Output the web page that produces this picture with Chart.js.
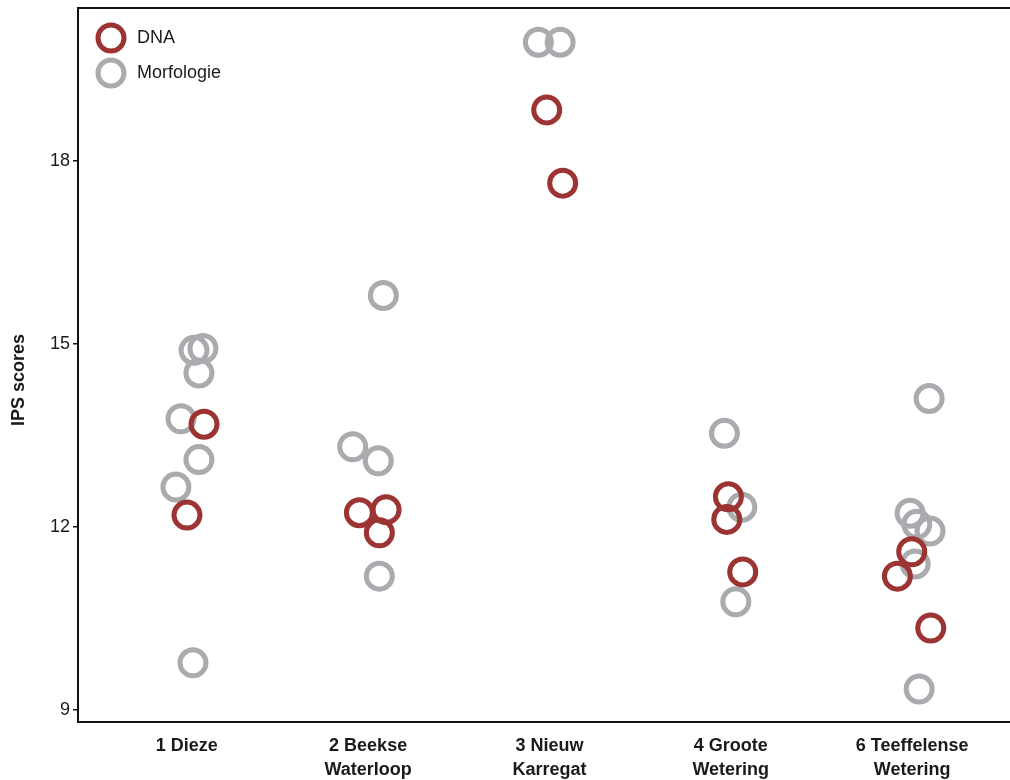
<!DOCTYPE html>
<html>
<head>
<meta charset="utf-8">
<title>IPS scores per locatie</title>
<script src="https://cdn.jsdelivr.net/npm/chart.js@4.4.1/dist/chart.umd.min.js"></script>
<style>
  html, body { margin: 0; padding: 0; background: #ffffff; }
  #wrap { width: 1010px; height: 780px; }
</style>
</head>
<body>
<div id="wrap"><canvas id="chart" width="1010" height="780"></canvas></div>
<script>
// Locations along the x axis (multi-line labels)
const categories = [
  ['1 Dieze'],
  ['2 Beekse', 'Waterloop'],
  ['3 Nieuw', 'Karregat'],
  ['4 Groote', 'Wetering'],
  ['6 Teeffelense', 'Wetering']
];
const yTicks = [9, 12, 15, 18];

// DNA-based IPS scores: location position (with jitter) and score
const dnaX      = [1.095, 1.001, 1.952, 2.099, 2.062, 2.985, 3.073, 3.987, 3.978, 4.066, 4.998, 4.919, 5.103];
const dnaScores = [13.68, 12.19, 12.23, 12.28, 11.90, 18.83, 17.63, 12.49, 12.12, 11.26, 11.59, 11.19, 10.34];

// Morphology-based IPS scores
const morfX      = [1.040, 1.089, 1.067, 0.968, 1.067, 0.940, 1.034,
                    2.084, 1.915, 2.056, 2.062,
                    2.939, 3.059,
                    3.965, 4.061, 4.028,
                    5.094, 4.989, 5.026, 5.099, 5.017, 5.039];
const morfScores = [14.89, 14.92, 14.52, 13.77, 13.10, 12.65, 9.77,
                    15.79, 13.31, 13.08, 11.19,
                    19.94, 19.94,
                    13.53, 12.32, 10.77,
                    14.10, 12.22, 12.04, 11.93, 11.39, 9.34];

const RED = 'rgb(155,52,50)';
const GREY = 'rgb(170,171,175)';
const INK = '#111111';
const FONT = "'Liberation Sans', Arial, Helvetica, sans-serif";

const toPoints = (xs, ys) => xs.map((x, i) => ({ x: x, y: ys[i] }));

// Frame line along the top of the plot area
const topFrame = {
  id: 'topFrame',
  afterDraw(chart) {
    const { ctx, chartArea } = chart;
    ctx.save();
    ctx.strokeStyle = INK;
    ctx.lineWidth = 2;
    ctx.beginPath();
    ctx.moveTo(chartArea.left - 1, chartArea.top);
    ctx.lineTo(chart.width, chartArea.top);
    ctx.stroke();
    ctx.restore();
  }
};

// Legend drawn inside the top-left corner of the plot area
const innerLegend = {
  id: 'innerLegend',
  afterDraw(chart) {
    const { ctx, chartArea } = chart;
    ctx.save();
    chart.data.datasets.forEach((ds, i) => {
      const cx = chartArea.left + 33;
      const cy = chartArea.top + 30 + i * 35;
      ctx.beginPath();
      ctx.arc(cx, cy, ds.pointRadius, 0, Math.PI * 2);
      ctx.lineWidth = ds.borderWidth;
      ctx.strokeStyle = ds.borderColor;
      ctx.stroke();
      ctx.fillStyle = '#1a1a1a';
      ctx.font = '18px ' + FONT;
      ctx.textAlign = 'left';
      ctx.textBaseline = 'middle';
      ctx.fillText(ds.label, cx + 26, cy);
    });
    ctx.restore();
  }
};

// Vertical axis title
const yTitle = {
  id: 'yTitle',
  afterDraw(chart) {
    const { ctx } = chart;
    ctx.save();
    ctx.translate(19, 380);
    ctx.rotate(-Math.PI / 2);
    ctx.fillStyle = '#1a1a1a';
    ctx.font = 'bold 18px ' + FONT;
    ctx.textAlign = 'center';
    ctx.textBaseline = 'middle';
    ctx.fillText('IPS scores', 0, 0);
    ctx.restore();
  }
};

new Chart(document.getElementById('chart'), {
  type: 'scatter',
  data: {
    datasets: [
      {
        label: 'DNA',
        data: toPoints(dnaX, dnaScores),
        pointRadius: 13,
        pointHoverRadius: 13,
        borderWidth: 5,
        borderColor: RED,
        backgroundColor: 'rgba(0,0,0,0)',
        pointBackgroundColor: 'rgba(0,0,0,0)'
      },
      {
        label: 'Morfologie',
        data: toPoints(morfX, morfScores),
        pointRadius: 13,
        pointHoverRadius: 13,
        borderWidth: 5,
        borderColor: GREY,
        backgroundColor: 'rgba(0,0,0,0)',
        pointBackgroundColor: 'rgba(0,0,0,0)'
      }
    ]
  },
  options: {
    responsive: false,
    devicePixelRatio: 1,
    animation: false,
    layout: { autoPadding: false, padding: { top: 8, left: 0, right: 0, bottom: 0 } },
    plugins: {
      legend: { display: false },
      tooltip: { enabled: false }
    },
    scales: {
      x: {
        type: 'linear',
        min: 0.4,
        max: 5.54,
        afterBuildTicks(scale) {
          scale.ticks = categories.map((c, i) => ({ value: i + 1 }));
        },
        afterFit(scale) {
          scale.height = 58;
          scale.paddingLeft = 0;
          scale.paddingRight = 0;
        },
        grid: { display: false, drawTicks: false },
        border: { display: true, color: INK, width: 2 },
        ticks: {
          padding: 12,
          maxRotation: 0,
          autoSkip: false,
          color: '#1a1a1a',
          font: { family: FONT, size: 18, weight: 'bold', lineHeight: 1.33 },
          callback: (v) => categories[Math.round(v) - 1]
        }
      },
      y: {
        min: 8.8,
        max: 20.5,
        afterBuildTicks(scale) {
          scale.ticks = yTicks.map(v => ({ value: v }));
        },
        afterFit(scale) {
          scale.width = 78;
          scale.paddingTop = 0;
          scale.paddingBottom = 0;
        },
        grid: {
          drawOnChartArea: false,
          drawTicks: true,
          tickLength: 5,
          color: INK,
          lineWidth: 1.5
        },
        border: { display: true, color: INK, width: 2 },
        ticks: {
          padding: 3,
          color: '#1a1a1a',
          font: { family: FONT, size: 18 }
        }
      }
    }
  },
  plugins: [topFrame, innerLegend, yTitle]
});
</script>
</body>
</html>
